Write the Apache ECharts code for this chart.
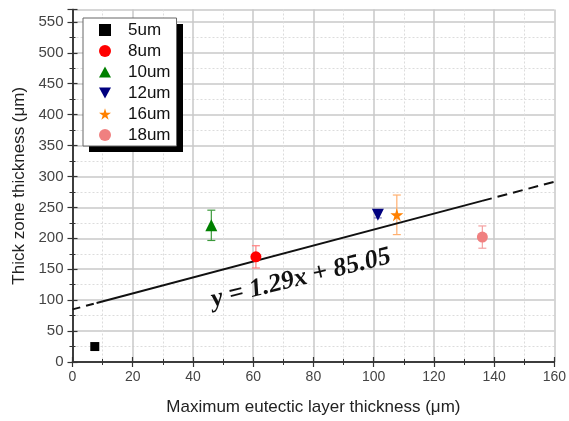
<!DOCTYPE html>
<html><head><meta charset="utf-8">
<script src="https://cdn.jsdelivr.net/npm/echarts@6/dist/echarts.min.js"></script>
<style>html,body{margin:0;padding:0;background:#fff}#c{width:569px;height:421px}</style>
</head><body><div id="c"></div>
<script>
var seriesNames = ['5um','8um','10um','12um','16um','18um'];
var xVals = [7.4, 60.9, 46.1, 101.4, 107.7, 136.1];
var yVals = [25, 170, 221, 238, 238, 202];
var yErr = [0, 18, 24.5, 5, 32, 18];
var colors = ['#000000','#ff0000','#008000','#00007f','#ff8000','#f08080'];
var errColors = ['#000000','#ff8080','#3c9a3c','#8080c0','#ffb070','#f4a0a0'];
var symbols = ['rect','circle','path://M0,0 L100,0 L50,-90 Z','path://M0,0 L100,0 L50,90 Z','path://M50,0 L61,35 L98,35 L68,57 L79,91 L50,70 L21,91 L32,57 L2,35 L39,35 Z','circle'];
var symbolSizes = [9,11,12,12,13,11];
var fitSolid = [[8, 95.37],[136, 260.49]];
var fitDashLeft = [[0, 85.05],[8, 95.37]];
var fitDashRight = [[136, 260.49],[160, 291.45]];
var fitLabel = 'y = 1.29x + 85.05';
var xTicks = {min:0, max:160, interval:20};
var yTicks = {min:0, max:570, interval:50};

var chart = echarts.init(document.getElementById('c'));
var series = [];
seriesNames.forEach(function(n,i){
  if (yErr[i] > 0) {
    series.push({
      type:'custom', name:n+'_err', silent:true, z:3,
      data:[[xVals[i], yVals[i]-yErr[i], yVals[i]+yErr[i]]],
      renderItem:function(params, api){
        var p1 = api.coord([api.value(0), api.value(1)]);
        var p2 = api.coord([api.value(0), api.value(2)]);
        var w = 4;
        var st = {stroke: errColors[i], lineWidth: 1.2};
        return {type:'group', children:[
          {type:'line', shape:{x1:p1[0],y1:p1[1],x2:p2[0],y2:p2[1]}, style:st},
          {type:'line', shape:{x1:p1[0]-w,y1:p1[1],x2:p1[0]+w,y2:p1[1]}, style:st},
          {type:'line', shape:{x1:p2[0]-w,y1:p2[1],x2:p2[0]+w,y2:p2[1]}, style:st}
        ]};
      }
    });
  }
  series.push({
    type:'scatter', name:n, z:5,
    symbol:symbols[i], symbolSize:symbolSizes[i],
    itemStyle:{color:colors[i], opacity:1},
    data:[[xVals[i], yVals[i]]]
  });
});
series.push({type:'line', data:fitSolid, symbol:'none', lineStyle:{color:'#111', width:2}, z:4, silent:true});
series.push({type:'line', data:fitDashLeft, symbol:'none', lineStyle:{color:'#111', width:2, type:[8,6]}, z:4, silent:true});
series.push({type:'line', data:fitDashRight, symbol:'none', lineStyle:{color:'#111', width:2, type:[10,6]}, z:4, silent:true});

var axisCommon = {
  axisLine:{show:true, lineStyle:{color:'#333', width:1.5}},
  axisTick:{show:true, inside:true, length:5, lineStyle:{color:'#333', width:1.2}},
  minorTick:{show:true, splitNumber:2, length:3, lineStyle:{color:'#333'}}
};
var opt = {
  animation:false,
  backgroundColor:'#fff',
  grid:{left:72.5, right:12.5, top:9.5, bottom:58.5},
  legend:{
    orient:'vertical', left:83, top:18, z:6,
    data:seriesNames,
    itemWidth:12, itemHeight:12, itemGap:3,
    padding:[3,6,2,16],
    textStyle:{fontFamily:'Liberation Sans', fontSize:17, lineHeight:18, color:'#111', padding:[0,0,0,12]},
    backgroundColor:'#fff', borderColor:'#666', borderWidth:1
  },
  graphic:[{type:'rect', left:89, top:24, z:5, shape:{width:94, height:128}, style:{fill:'#000'}}],
  xAxis:[
    Object.assign({type:'value', position:'bottom', min:xTicks.min, max:xTicks.max, interval:xTicks.interval,
      name:'Maximum eutectic layer thickness (μm)', nameLocation:'middle', nameGap:37,
      nameTextStyle:{fontFamily:'Liberation Sans', fontSize:17, color:'#222'},
      axisLabel:{fontFamily:'Liberation Sans', fontSize:14, color:'#444', margin:8},
      splitLine:{show:true, lineStyle:{color:'#c8c8c8', width:1.5}},
      minorSplitLine:{show:true, lineStyle:{color:'#dcdcdc', type:[2,2], width:1}}
    }, axisCommon),
    Object.assign({type:'value', position:'top', min:xTicks.min, max:xTicks.max, interval:xTicks.interval,
      axisLabel:{show:false}, splitLine:{show:false}
    }, axisCommon)
  ],
  yAxis:[
    Object.assign({type:'value', position:'left', min:yTicks.min, max:yTicks.max, interval:yTicks.interval,
      name:'Thick zone thickness (μm)', nameLocation:'middle', nameGap:44,
      nameTextStyle:{fontFamily:'Liberation Sans', fontSize:17, color:'#222'},
      axisLabel:{fontFamily:'Liberation Sans', fontSize:15, color:'#444', margin:9, showMaxLabel:false},
      splitLine:{show:true, lineStyle:{color:'#c8c8c8', width:1.5}},
      minorSplitLine:{show:true, lineStyle:{color:'#dcdcdc', type:[2,2], width:1}}
    }, axisCommon),
    Object.assign({type:'value', position:'right', min:yTicks.min, max:yTicks.max, interval:yTicks.interval,
      axisLabel:{show:false}, splitLine:{show:false}
    }, axisCommon)
  ],
  series:series
};
chart.setOption(opt);
var pos = chart.convertToPixel({xAxisIndex:0, yAxisIndex:0}, [75.9, 135.6]);
var p0 = chart.convertToPixel({xAxisIndex:0, yAxisIndex:0}, fitSolid[0]);
var p1 = chart.convertToPixel({xAxisIndex:0, yAxisIndex:0}, fitSolid[1]);
var ang = Math.atan2(p0[1]-p1[1], p1[0]-p0[0]);
chart.setOption({graphic:[{}, {
  type:'text', x:pos[0], y:pos[1], rotation:ang*0.93, z:10,
  style:{text:fitLabel, font:'italic bold 26px "Liberation Serif"', fill:'#111', align:'center', verticalAlign:'middle'}
}]});
</script></body></html>
